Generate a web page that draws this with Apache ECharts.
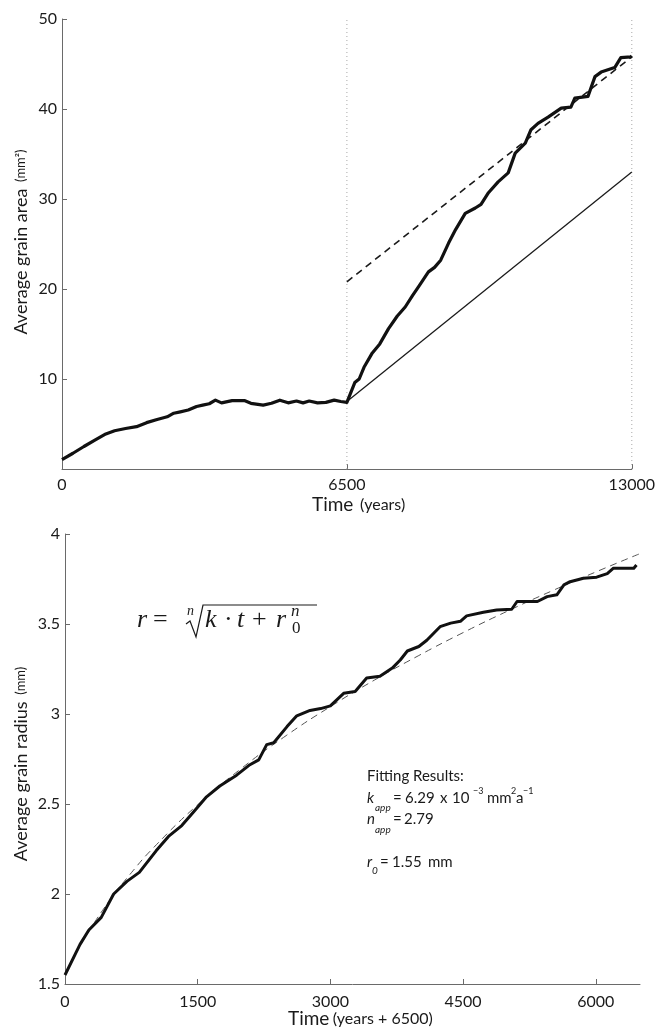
<!DOCTYPE html>
<html><head><meta charset="utf-8">
<script src="https://cdn.jsdelivr.net/npm/echarts@6/dist/echarts.min.js"></script>
<style>html,body{margin:0;padding:0;background:#fff}#c{width:658px;height:1028px}</style>
</head><body><div id="c"></div>
<script>
// ---------- Top panel: average grain area vs time ----------
const topTime = [0,250,500,750,1000,1200,1450,1700,1930,2170,2400,2550,2700,2880,3070,3210,3360,3500,3640,3880,4160,4310,4590,4780,4970,5160,5350,5500,5640,5830,6020,6210,6360,6500,
  6680,6780,6890,7080,7250,7450,7650,7830,8000,8140,8360,8500,8640,8820,8980,9200,9430,9560,9730,9950,10180,10340,10570,10700,10860,11090,11390,11610,11700,12000,12160,12300,12610,12750,12980,13000];
const topArea = [1.05,1.75,2.5,3.2,3.9,4.25,4.5,4.7,5.15,5.5,5.8,6.2,6.35,6.55,6.95,7.1,7.25,7.65,7.35,7.6,7.6,7.3,7.1,7.3,7.65,7.35,7.55,7.35,7.55,7.35,7.4,7.65,7.5,7.4,
  9.6,10.0,11.3,12.9,13.9,15.6,17.0,18.0,19.3,20.3,21.9,22.4,23.2,25.1,26.6,28.4,29.0,29.4,30.7,31.9,32.9,35.1,36.2,37.7,38.4,39.1,40.1,40.2,41.2,41.4,43.6,44.1,44.6,45.7,45.8,45.9];
const dashFitTime = [6500, 13000];
const dashFitArea = [20.8, 45.8];
const linRefTime = [6500, 13000];
const linRefArea = [7.5, 33.0];
const markerTimes = [6500, 13000];
const topXTicks = [0, 6500, 13000];
const topYTicks = [10, 20, 30, 40, 50];

// ---------- Bottom panel: average grain radius vs time ----------
const botTime = [0,170,270,410,550,700,840,1030,1170,1320,1460,1600,1750,1940,2080,2190,2280,2360,2510,2620,2770,2890,3000,3150,3280,3410,3560,3700,3790,3870,4000,4090,4240,4360,4470,4540,4730,4880,5050,5110,5340,5450,5560,5640,5710,5860,6010,6130,6200,6430,6460];
const botRadius = [1.55,1.72,1.80,1.87,2.00,2.07,2.12,2.24,2.32,2.38,2.46,2.54,2.60,2.66,2.715,2.745,2.83,2.84,2.93,2.99,3.02,3.03,3.045,3.115,3.125,3.20,3.21,3.255,3.30,3.35,3.375,3.41,3.485,3.505,3.515,3.545,3.565,3.578,3.582,3.625,3.625,3.652,3.662,3.717,3.735,3.754,3.76,3.78,3.81,3.81,3.828];
const fitTime = [0,125,250,500,750,1000,1500,2000,2500,3000,3500,4000,4500,5000,5500,6000,6500];
const fitRadius = [1.55,1.67,1.777,1.961,2.118,2.257,2.496,2.700,2.880,3.041,3.189,3.325,3.452,3.571,3.683,3.789,3.891];
const botXTicks = [0, 1500, 3000, 4500, 6000];
const botYTicks = [1.5, 2, 2.5, 3, 3.5, 4];

const SANS = 'Lato';
const SERIF = 'Liberation Serif';
const INK = '#1a1a1a';
const AX = '#6a6a6a';

const pair = (xs, ys) => xs.map((x, i) => [x, ys[i]]);

function axisCommon(ticks, extra) {
  return Object.assign({
    type: 'value',
    axisLine: { show: true, onZero: false, lineStyle: { color: AX, width: 1 } },
    axisTick: { show: true, inside: true, length: 5, customValues: ticks, lineStyle: { color: AX, width: 1 } },
    axisLabel: { customValues: ticks, color: INK, fontFamily: SANS, fontSize: 16, formatter: v => String(v) },
    splitLine: { show: false }
  }, extra);
}

const xTop = axisCommon(topXTicks, { gridIndex: 0, min: 0, max: 13000, interval: 6500 });
xTop.axisLabel.margin = 8;
const yTop = axisCommon(topYTicks, { gridIndex: 0, min: 0, max: 50, interval: 10 });
yTop.axisLabel.margin = 5;
yTop.axisLabel.formatter = v => (v === 0 ? '' : String(v));
const xBot = axisCommon(botXTicks, { gridIndex: 1, min: 0, max: 6500, interval: 1500 });
xBot.axisLabel.margin = 10;
xBot.axisLabel.formatter = v => (v === 6500 ? '' : String(v));
const yBot = axisCommon(botYTicks, { gridIndex: 1, min: 1.5, max: 4, interval: 0.5 });
yBot.axisLabel.margin = 5;

const base = { type: 'line', showSymbol: false, symbol: 'none', silent: true, animation: false };

const series = [];
markerTimes.forEach(t => {
  series.push(Object.assign({}, base, {
    xAxisIndex: 0, yAxisIndex: 0, z: 1,
    data: [[t, 0], [t, 50]],
    lineStyle: { color: '#a8a8a8', width: 1, type: [1, 3] }
  }));
});
series.push(Object.assign({}, base, {
  xAxisIndex: 0, yAxisIndex: 0, z: 2,
  data: pair(linRefTime, linRefArea),
  lineStyle: { color: INK, width: 1.3 }
}));
series.push(Object.assign({}, base, {
  xAxisIndex: 0, yAxisIndex: 0, z: 2,
  data: pair(dashFitTime, dashFitArea),
  lineStyle: { color: INK, width: 1.6, type: [7, 5] }
}));
series.push(Object.assign({}, base, {
  xAxisIndex: 0, yAxisIndex: 0, z: 3,
  data: pair(topTime, topArea),
  lineStyle: { color: '#111', width: 3.2, join: 'round' }
}));
series.push(Object.assign({}, base, {
  xAxisIndex: 1, yAxisIndex: 1, z: 2, smooth: true,
  data: pair(fitTime, fitRadius),
  lineStyle: { color: '#555', width: 1, type: [7, 5] }
}));
series.push(Object.assign({}, base, {
  xAxisIndex: 1, yAxisIndex: 1, z: 3,
  data: pair(botTime, botRadius),
  lineStyle: { color: '#111', width: 3, join: 'round' }
}));

function txt(x, y, text, size, opts) {
  return {
    type: 'text', x: x, y: y, silent: true,
    style: {
      text: text, fill: INK, font: (opts && opts.italic ? 'italic ' : '') + size + 'px ' + ((opts && opts.family) || SANS),
      align: (opts && opts.align) || 'left', verticalAlign: 'middle'
    }
  };
}

const graphic = [
  // y-axis titles
  {
    type: 'text', x: 21, y: 242, rotation: Math.PI / 2, silent: true,
    style: {
      text: '{a|Average grain area}  {b|(mm²)}', align: 'center', verticalAlign: 'middle',
      rich: { a: { fontFamily: SANS, fontSize: 18, fill: INK }, b: { fontFamily: SANS, fontSize: 13, fill: INK } }
    }
  },
  {
    type: 'text', x: 21, y: 764, rotation: Math.PI / 2, silent: true,
    style: {
      text: '{a|Average grain radius}  {b|(mm)}', align: 'center', verticalAlign: 'middle',
      rich: { a: { fontFamily: SANS, fontSize: 18, fill: INK }, b: { fontFamily: SANS, fontSize: 13, fill: INK } }
    }
  },
  // x-axis titles
  {
    type: 'text', x: 312, y: 505, silent: true,
    style: {
      text: '{a|Time}  {b|(years)}', align: 'left', verticalAlign: 'middle',
      rich: { a: { fontFamily: SANS, fontSize: 19, fill: INK }, b: { fontFamily: SANS, fontSize: 16, fill: INK } }
    }
  },
  {
    type: 'text', x: 288, y: 1019, silent: true,
    style: {
      text: '{a|Time} {b|(years + 6500)}', align: 'left', verticalAlign: 'middle',
      rich: { a: { fontFamily: SANS, fontSize: 19, fill: INK }, b: { fontFamily: SANS, fontSize: 16, fill: INK } }
    }
  },
  // formula r = n-th root(k t + r0^n)
  txt(137, 620, 'r', 26, { italic: true, family: SERIF }),
  txt(153, 620, '=', 26, { family: SERIF }),
  txt(187, 611, 'n', 14, { italic: true, family: SERIF }),
  {
    type: 'polyline', silent: true,
    shape: { points: [[186, 624], [190, 621], [196, 637], [203, 605], [317, 605]] },
    style: { stroke: INK, lineWidth: 1.2, fill: null }
  },
  txt(205, 620, 'k', 26, { italic: true, family: SERIF }),
  txt(224, 620, '·', 26, { family: SERIF }),
  txt(237, 620, 't', 26, { italic: true, family: SERIF }),
  txt(252, 620, '+', 26, { family: SERIF }),
  txt(276, 620, 'r', 26, { italic: true, family: SERIF }),
  txt(291, 612, 'n', 17, { italic: true, family: SERIF }),
  txt(292, 629, '0', 17, { family: SERIF }),
  // Fitting results
  txt(367, 776, 'Fitting Results:', 15),
  txt(367, 798, 'k', 15, { italic: true }),
  txt(375, 808, 'app', 10, { italic: true }),
  txt(393, 798, '=', 15),
  txt(405, 798, '6.29', 15),
  txt(440, 798, 'x', 15),
  txt(452, 798, '10', 15),
  txt(473, 791, '−3', 9),
  txt(487, 798, 'mm', 15),
  txt(511, 791, '2', 9),
  txt(516, 798, 'a', 15),
  txt(523, 791, '−1', 9),
  txt(367, 819, 'n', 15, { italic: true }),
  txt(375, 830, 'app', 10, { italic: true }),
  txt(393, 819, '=', 15),
  txt(404, 819, '2.79', 15),
  txt(367, 862, 'r', 15, { italic: true }),
  txt(372, 871, '0', 10, { italic: true }),
  txt(380, 862, '=', 15),
  txt(392, 862, '1.55', 15),
  txt(428, 862, 'mm', 15)
];

const chart = echarts.init(document.getElementById('c'), null, { renderer: 'canvas' });
chart.setOption({
  backgroundColor: '#fff',
  animation: false,
  grid: [
    { left: 62, top: 19, width: 572, height: 450, containLabel: false },
    { left: 65, top: 534, width: 575, height: 450, containLabel: false }
  ],
  xAxis: [xTop, xBot],
  yAxis: [yTop, yBot],
  series: series,
  graphic: graphic
});
</script></body></html>
